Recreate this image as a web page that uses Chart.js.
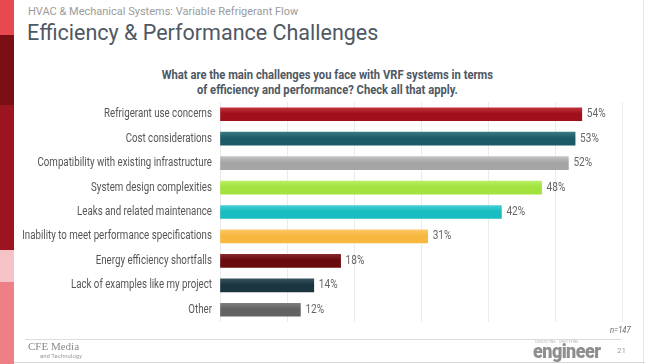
<!DOCTYPE html>
<html>
<head>
<meta charset="utf-8">
<script src="https://cdn.jsdelivr.net/npm/chart.js@4.4.1/dist/chart.umd.min.js"></script>
<style>
  html, body { margin: 0; padding: 0; background: #fff; }
  #page { position: relative; width: 645px; height: 364px; overflow: hidden; font-family: Roboto, "Liberation Sans", sans-serif; }
  #chart { position: absolute; left: 0; top: 0; }
  .strip { position: absolute; left: 0; width: 14px; }
  .txt { position: absolute; white-space: nowrap; }
</style>
</head>
<body>
<div id="page">
  <div class="strip" style="top:0;height:35px;background:#e64a4e"></div>
  <div class="strip" style="top:35px;height:70px;background:#7a0f14"></div>
  <div class="strip" style="top:105px;height:145px;background:#9c1420"></div>
  <div class="strip" style="top:250px;height:32px;background:#f5c2c6"></div>
  <div class="strip" style="top:282px;height:82px;background:#ee7f87"></div>

  <div class="txt" style="left:28px;top:5px;font-size:11px;color:#9b9b9b;">HVAC &amp; Mechanical Systems: Variable Refrigerant Flow</div>
  <div class="txt" style="left:27px;top:20px;font-size:21.5px;color:#4e5863;">Efficiency &amp; Performance Challenges</div>

  <div class="txt" style="left:0;width:655px;top:67px;text-align:center;font-weight:bold;font-size:13.5px;line-height:15px;color:#4e5863;transform:scaleX(0.83);transform-origin:327px 0;">What are the main challenges you face with VRF systems in terms<br>of efficiency and performance? Check all that apply.</div>

  <canvas id="chart" width="645" height="364"></canvas>

  <div class="txt" style="left:610px;top:325px;font-size:9px;font-style:italic;color:#666;transform:scaleX(0.85);transform-origin:0 0;">n=147</div>
  <div style="position:absolute;left:25px;top:339px;width:597px;height:1px;background:#dcdcdc;"></div>
  <div style="position:absolute;left:14px;top:362px;width:631px;height:1px;background:#d6d6d6;"></div>
  <div style="position:absolute;left:643px;top:0;width:1px;height:364px;background:#e2e2e2;"></div>
  <div class="txt" style="left:28px;top:340px;font-family:'Liberation Serif', serif;font-size:11px;color:#8a8a8a;">CFE Media</div>
  <div class="txt" style="left:40px;top:352px;font-size:6px;color:#9a9a9a;">and Technology</div>
  <div class="txt" style="left:535px;top:340px;font-size:3px;color:#aaa;letter-spacing:0.3px;">CONSULTING · SPECIFYING</div>
  <div class="txt" style="left:533px;top:339px;font-size:20px;font-weight:900;color:#8e8e8e;letter-spacing:-0.6px;transform:scaleX(0.9);transform-origin:0 0;">engineer</div>
  <div class="txt" style="left:617px;top:346px;font-size:8px;color:#a0a0a0;">21</div>
</div>
<script>
const categories = [
  'Refrigerant use concerns',
  'Cost considerations',
  'Compatibility with existing infrastructure',
  'System design complexities',
  'Leaks and related maintenance',
  'Inability to meet performance specifications',
  'Energy efficiency shortfalls',
  'Lack of examples like my project',
  'Other'
];
const values = [54, 53, 52, 48, 42, 31, 18, 14, 12];
const barColors = ['#a0101c', '#1d5a65', '#a5a5a5', '#a3e33f', '#19bcc0', '#f8b73e', '#680a0e', '#1b3540', '#626262'];
const topColors = ['#c4343d', '#3b7c86', '#c4c4c4', '#baf066', '#45d2d4', '#fcc866', '#8c2a2e', '#3a5560', '#808080'];
const xTicks = [0, 10, 20, 30, 40, 50, 60];

// condensed text: Roboto squeezed horizontally
const labelSqueeze = 0.81;
const valueSqueeze = 0.84;

const narrowText = {
  id: 'narrowText',
  afterDatasetsDraw(chart) {
    const ctx = chart.ctx;
    const yScale = chart.scales.y;
    const meta = chart.getDatasetMeta(0);
    ctx.save();
    ctx.font = '12px Roboto, sans-serif';
    ctx.textBaseline = 'middle';
    // category labels
    ctx.fillStyle = '#555';
    ctx.textAlign = 'right';
    yScale.ticks.forEach((t, i) => {
      const y = yScale.getPixelForTick(i);
      ctx.save();
      ctx.translate(yScale.right - 8, y);
      ctx.scale(labelSqueeze, 1);
      ctx.fillText(yScale.getLabelForValue(t.value), 0, 0);
      ctx.restore();
    });
    // value labels
    ctx.fillStyle = '#666';
    ctx.textAlign = 'left';
    meta.data.forEach((bar, i) => {
      ctx.save();
      ctx.translate(bar.x + 5, bar.y);
      ctx.scale(valueSqueeze, 1);
      ctx.fillText(values[i] + '%', 0, 0);
      ctx.restore();
    });
    ctx.restore();
  }
};

new Chart(document.getElementById('chart'), {
  type: 'bar',
  data: {
    labels: categories,
    datasets: [{
      data: values,
      barThickness: 13,
      borderWidth: 0,
      backgroundColor: (c) => {
        const chart = c.chart;
        if (!chart.chartArea || c.dataIndex === undefined) return barColors[c.dataIndex] || '#999';
        const y = chart.scales.y.getPixelForValue(c.dataIndex);
        const g = chart.ctx.createLinearGradient(0, y - 7, 0, y + 7);
        g.addColorStop(0, topColors[c.dataIndex]);
        g.addColorStop(0.45, barColors[c.dataIndex]);
        g.addColorStop(1, barColors[c.dataIndex]);
        return g;
      }
    }]
  },
  options: {
    indexAxis: 'y',
    responsive: false,
    animation: false,
    layout: { padding: { left: 0, top: 102, right: 23, bottom: 42 } },
    plugins: { legend: { display: false }, tooltip: { enabled: false } },
    scales: {
      x: {
        min: xTicks[0],
        max: xTicks[xTicks.length - 1],
        afterBuildTicks: (s) => { s.ticks = xTicks.map(v => ({ value: v })); },
        ticks: { display: false },
        grid: { color: '#ebebeb', drawTicks: false },
        border: { display: false }
      },
      y: {
        afterFit: (s) => { s.width = 220; },
        ticks: { display: false },
        grid: { display: false, drawTicks: false },
        border: { display: false }
      }
    }
  },
  plugins: [narrowText]
});
</script>
</body>
</html>
